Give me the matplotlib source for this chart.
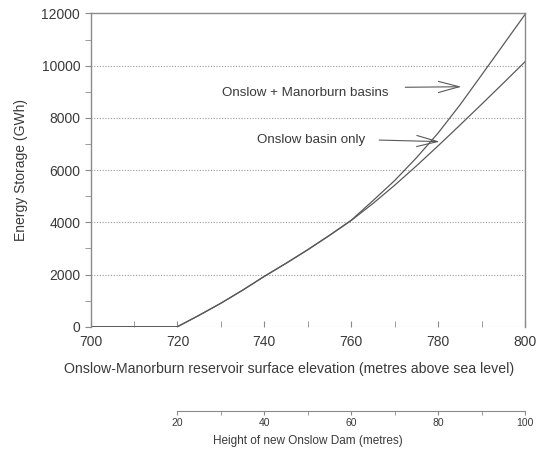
import numpy as np
import matplotlib
matplotlib.use("Agg")
import matplotlib.pyplot as plt
from matplotlib.ticker import MultipleLocator, FixedLocator

plt.rcParams['font.family'] = ['Liberation Sans', 'DejaVu Sans']

# reservoir surface elevation (m above sea level)
elev = [700, 710, 720, 725, 730, 735, 740, 745, 750, 755, 760,
        765, 770, 775, 780, 785, 790, 795, 800]
# energy storage (GWh)
onslow_only = [0, 0, 0, 440, 900, 1400, 1930, 2430, 2950, 3500, 4070,
               4720, 5420, 6160, 6930, 7720, 8520, 9330, 10150]
onslow_manorburn = [0, 0, 0, 440, 900, 1400, 1930, 2430, 2950, 3500, 4080,
                    4830, 5600, 6470, 7420, 8490, 9640, 10800, 11960]

y_ticks = [0, 2000, 4000, 6000, 8000, 10000, 12000]
x_ticks = [700, 720, 740, 760, 780, 800]
dam_ticks = [20, 40, 60, 80, 100]
dam_minor = [30, 50, 70, 90]

line_col = '#5a5a5a'
text_col = '#3a3a3a'
spine_col = '#8a8a8a'

fig = plt.figure(figsize=(5.4, 4.57), dpi=100)
ax = fig.add_axes([0.1678, 0.2851, 0.8044, 0.6854])

ax.plot(elev, onslow_manorburn, color=line_col, lw=0.9)
ax.plot(elev, onslow_only, color=line_col, lw=0.9)

ax.set_xlim(700, 800)
ax.set_ylim(0, 12000)
ax.set_yticks(y_ticks)
ax.set_xticks(x_ticks)
ax.yaxis.set_minor_locator(MultipleLocator(1000))
ax.xaxis.set_minor_locator(MultipleLocator(10))

# dotted gridlines (the one at zero stands in for the bottom axis line)
for g in y_ticks[:-1]:
    ax.axhline(g, color='#9a9a9a', lw=0.8, ls=(0, (1, 1.5)), zorder=0)

for s in ['left', 'top', 'right']:
    ax.spines[s].set_color(spine_col)
    ax.spines[s].set_linewidth(1.0)
ax.spines['bottom'].set_visible(False)

ax.tick_params(axis='y', which='both', direction='out', colors=spine_col,
               labelcolor=text_col, labelsize=10, length=4)
ax.tick_params(axis='x', which='both', direction='in', colors=spine_col,
               labelcolor=text_col, labelsize=10, length=4, pad=6)

ax.set_ylabel('Energy Storage (GWh)', fontsize=10, color=text_col, labelpad=10)
ax.set_xlabel('Onslow-Manorburn reservoir surface elevation (metres above sea level)',
              fontsize=10.2, color=text_col)
ax.xaxis.set_label_coords(0.458, -0.113)

# annotations
arrow_style = '->,head_length=1.5,head_width=0.4'
ax.text(730.2, 8943, 'Onslow + Manorburn basins', fontsize=9.6, color=text_col,
        va='center', ha='left')
ax.annotate('', xy=(786.0, 9195), xytext=(771.8, 9172),
            arrowprops=dict(arrowstyle=arrow_style, color=line_col, lw=0.8))
ax.text(738.3, 7153, 'Onslow basin only', fontsize=9.6, color=text_col,
        va='center', ha='left')
ax.annotate('', xy=(781.0, 7088), xytext=(765.8, 7153),
            arrowprops=dict(arrowstyle=arrow_style, color=line_col, lw=0.8))

# second scale: height of the new dam
sec = ax.secondary_xaxis('bottom', functions=(lambda x: x - 700, lambda h: h + 700))
sec.spines['bottom'].set_position(('outward', 60.7))
sec.spines['bottom'].set_bounds(20, 100)
sec.spines['bottom'].set_color(spine_col)
sec.set_xticks(dam_ticks)
sec.xaxis.set_minor_locator(FixedLocator(dam_minor))
sec.tick_params(axis='x', which='both', direction='out', colors=spine_col,
                labelcolor=text_col, labelsize=7.5, length=3, pad=2)
fig.text(308 / 540, 1 - 440.7 / 457, 'Height of new Onslow Dam (metres)',
         fontsize=8.5, color=text_col, ha='center', va='center')

fig.savefig('out.png', dpi=100)
